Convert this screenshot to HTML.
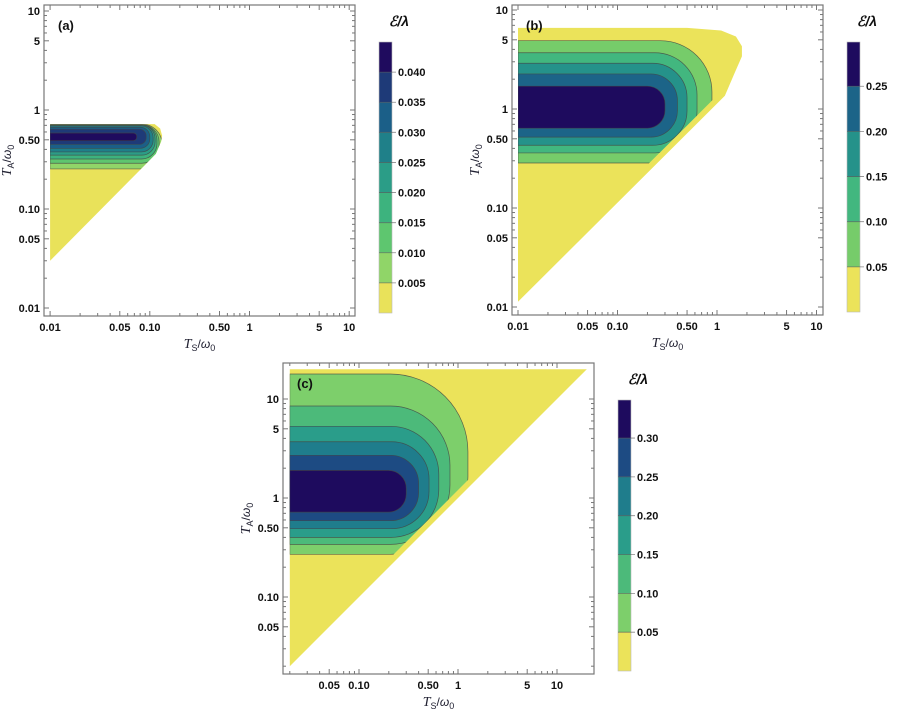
<!DOCTYPE html>
<html><head><meta charset="utf-8">
<style>
html,body{margin:0;padding:0;background:#fff;}
svg{display:block;font-family:"Liberation Sans",sans-serif;}
.tk{font-size:11px;fill:#111;font-weight:bold;}
</style></head>
<body>
<svg id="fig" width="897" height="715" viewBox="0 0 897 715" xmlns="http://www.w3.org/2000/svg"></svg>
<script>
// ---- data ----
const aLevels=[0.005,0.01,0.015,0.02,0.025,0.03,0.035,0.04];
const aTopY=[0.72,0.71,0.705,0.70,0.69,0.67,0.64,0.586];
const aBotY=[0.254,0.29,0.32,0.35,0.377,0.41,0.45,0.49];
const aRightX=[0.133,0.124,0.118,0.113,0.108,0.10,0.092,0.074];
const aDomain=[[0.01,0.03],[0.09,0.28],[0.115,0.36],[0.13,0.48],[0.133,0.55],[0.127,0.65],[0.112,0.72],[0.01,0.72]];
const aBarTicks=[0.005,0.01,0.015,0.02,0.025,0.03,0.035,0.04];
const aBarLabels=["0.005","0.010","0.015","0.020","0.025","0.030","0.035","0.040"];

const bLevels=[0.05,0.1,0.15,0.2,0.25];
const bTopY=[4.9,3.7,2.9,2.26,1.7];
const bBotY=[0.285,0.36,0.43,0.52,0.64];
const bRightX=[0.89,0.63,0.50,0.40,0.30];
const bDomain=[[0.01,0.0113],[1.2,1.36],[1.5,2.3],[1.78,3.4],[1.78,4.3],[1.55,5.4],[1.1,6.2],[0.5,6.6],[0.01,6.6]];
const bBarTicks=[0.05,0.1,0.15,0.2,0.25];
const bBarLabels=["0.05","0.10","0.15","0.20","0.25"];

const cLevels=[0.05,0.1,0.15,0.2,0.25,0.3];
const cTopY=[17.9,8.5,5.3,3.7,2.7,1.9];
const cBotY=[0.27,0.34,0.40,0.49,0.59,0.72];
const cRightX=[1.26,0.83,0.64,0.51,0.40,0.30];
const cDomain=[[0.02,0.02],[20,20],[0.02,20]];
const cBarTicks=[0.05,0.1,0.15,0.2,0.25,0.3];
const cBarLabels=["0.05","0.10","0.15","0.20","0.25","0.30"];

const tickVals=[0.01,0.05,0.1,0.5,1,5,10];
const tickLabels=["0.01","0.05","0.10","0.50","1","5","10"];

const col9=["#e9e25a","#90d568","#5ec66f","#3db37e","#2b9d87","#1f8089","#1b5f88","#1e3a78","#1f0b5e"];
const col6=["#ebe35a","#76cc6a","#42b77f","#25928a","#1c6488","#1e0b5e"];
const col7=["#ebe35a","#7dcf6b","#4cba7a","#2a9d8a","#1f7d8c","#1d4b83","#1e0b5e"];

const NS="http://www.w3.org/2000/svg";
const svg=document.getElementById('fig');
function el(tag,attrs,parent){const e=document.createElementNS(NS,tag);for(const k in attrs)e.setAttribute(k,attrs[k]);(parent||svg).appendChild(e);return e;}
const L=Math.log10;

function panel(id,cfg,levels,topY,botY,rightX,domain,colors,barTicks,barLabels,barMax){
  const X=v=>cfg.x0+cfg.dx*L(v), Y=v=>cfg.y0-cfg.dy*L(v);
  const g=el('g',{});
  
  
  const pts=domain.map(p=>X(p[0])+','+Y(p[1])).join(' ');
  const cp=el('clipPath',{id:'clip'+id},g);
  el('polygon',{points:pts},cp);
  const cp2=el('clipPath',{id:'clipS'+id},g);
  el('polygon',{points:pts,transform:`translate(${-cfg.off},${-cfg.off})`},cp2);
  const dom=el('polygon',{points:pts,fill:colors[0]},g);
  
  
  const bg0=el('g',{'clip-path':'url(#clip'+id+')'},g);
  const bg=el('g',{'clip-path':'url(#clipS'+id+')'},bg0);
  const x0=X(domain[domain.length-1][0]);
  for(let i=0;i<levels.length;i++){
    const yT=Y(topY[i]),yB=Y(botY[i]),xR=X(rightX[i]);
    const h=yB-yT; const r=Math.min(h/2,cfg.k*h,(xR-x0)/2);
    const d=`M${x0},${yT} H${xR-r} A${r},${r} 0 0 1 ${xR},${yT+r} V${yB-r} A${r},${r} 0 0 1 ${xR-r},${yB} H${x0} Z`;
    const p=el('path',{d:d,fill:colors[i+1],stroke:'#444','stroke-width':0.7,'stroke-opacity':0.8},bg);
    
    
  }
  const fr=el('rect',{x:cfg.fx0,y:cfg.fy0,width:cfg.fx1-cfg.fx0,height:cfg.fy1-cfg.fy0,fill:'none',stroke:'#777','stroke-width':1.2},g);
  
  
  for(let e=-2;e<=1;e++)for(let m=1;m<=9;m++){
    const v=m*Math.pow(10,e); if(v>10.01)continue;
    const maj=(m==1||m==5), len=maj?5:3;
    const xv=X(v); if(xv>=cfg.fx0&&xv<=cfg.fx1){
      el('line',{x1:xv,x2:xv,y1:cfg.fy1,y2:cfg.fy1-len,stroke:'#777'},g);
      el('line',{x1:xv,x2:xv,y1:cfg.fy0,y2:cfg.fy0+len,stroke:'#777'},g);}
    const yv=Y(v); if(yv>=cfg.fy0&&yv<=cfg.fy1){
      el('line',{y1:yv,y2:yv,x1:cfg.fx0,x2:cfg.fx0+len,stroke:'#777'},g);
      el('line',{y1:yv,y2:yv,x1:cfg.fx1,x2:cfg.fx1-len,stroke:'#777'},g);}
  }
  tickVals.forEach((v,i)=>{
    const xv=X(v);
    if(xv>=cfg.fx0+4&&xv<=cfg.fx1){
      const t=el('text',{x:xv,y:cfg.fy1+15,'text-anchor':'middle',class:'tk'},g);t.textContent=tickLabels[i];
      
      }
    const yv=Y(v);
    if(yv>=cfg.fy0&&yv<=cfg.fy1-4){
      const t=el('text',{x:cfg.fx0-4,y:yv+4,'text-anchor':'end',class:'tk'},g);t.textContent=tickLabels[i];
      
      }
  });
  const pl=el('text',{x:cfg.fx0+14,y:cfg.fy0+25,'font-size':13,'font-weight':'bold',fill:'#111'},g);pl.textContent='('+id+')';
  
  
  const xt=el('text',{x:(cfg.fx0+cfg.fx1)/2,y:cfg.fy1+32,'text-anchor':'middle','font-size':12,fill:'#223'},g);
  xt.innerHTML='<tspan font-family="Liberation Serif" font-style="italic" font-size="14">T</tspan><tspan font-size="9" dy="3">S</tspan><tspan dy="-3" font-size="12">/</tspan><tspan font-style="italic">ω</tspan><tspan font-size="9" dy="3">0</tspan>';
  
  
  const yc=(cfg.fy0+cfg.fy1)/2, yx=cfg.fx0-33;
  const yt=el('text',{x:yx,y:yc,'text-anchor':'middle','font-size':12,fill:'#223',transform:`rotate(-90 ${yx} ${yc})`},g);
  yt.innerHTML='<tspan font-family="Liberation Serif" font-style="italic" font-size="14">T</tspan><tspan font-size="9" dy="3">A</tspan><tspan dy="-3" font-size="12">/</tspan><tspan font-style="italic">ω</tspan><tspan font-size="9" dy="3">0</tspan>';
  
  
  const cb=el('g',{},g);
  
  
  const B=v=>cfg.by1-(cfg.by1-cfg.by0)*v/barMax;
  const edges=[0].concat(barTicks).concat([barMax]);
  for(let i=0;i<edges.length-1;i++){
    el('rect',{x:cfg.bx,y:B(edges[i+1]),width:13,height:B(edges[i])-B(edges[i+1]),fill:colors[i]},cb);
  }
  el('rect',{x:cfg.bx,y:cfg.by0,width:13,height:cfg.by1-cfg.by0,fill:'none',stroke:'#bbb','stroke-width':0.6},cb);
  barTicks.forEach((v,i)=>{
    el('line',{x1:cfg.bx,x2:cfg.bx+17,y1:B(v),y2:B(v),stroke:'#555','stroke-width':0.8,'stroke-opacity':0.7},cb);
    const t=el('text',{x:cfg.bx+19,y:B(v)+4,class:'tk'},cb);t.textContent=barLabels[i];
    
    
  });
  const ct=el('text',{x:cfg.bx+20,y:cfg.by0-16,'text-anchor':'middle','font-size':14,'font-style':'italic','font-weight':'bold',fill:'#111'},cb);
  ct.textContent='ℰ/λ';
  
  
}
panel('a',{x0:249.5,dx:99.7,y0:110,dy:99,fx0:44,fx1:355,fy0:5,fy1:316,k:0.45,off:0,bx:379,by0:42,by1:313},
  aLevels,aTopY,aBotY,aRightX,aDomain,col9,aBarTicks,aBarLabels,0.045);
panel('b',{x0:717,dx:99.5,y0:109,dy:99,fx0:512,fx1:823,fy0:5,fy1:315,k:0.42,off:4,bx:847,by0:42,by1:312},
  bLevels,bTopY,bBotY,bRightX,bDomain,col6,bBarTicks,bBarLabels,0.299);
panel('c',{x0:458,dx:99,y0:498,dy:99,fx0:283,fx1:594,fy0:363,fy1:674,k:0.43,off:4,bx:618,by0:400,by1:671},
  cLevels,cTopY,cBotY,cRightX,cDomain,col7,cBarTicks,cBarLabels,0.349);
</script>
</body></html>
